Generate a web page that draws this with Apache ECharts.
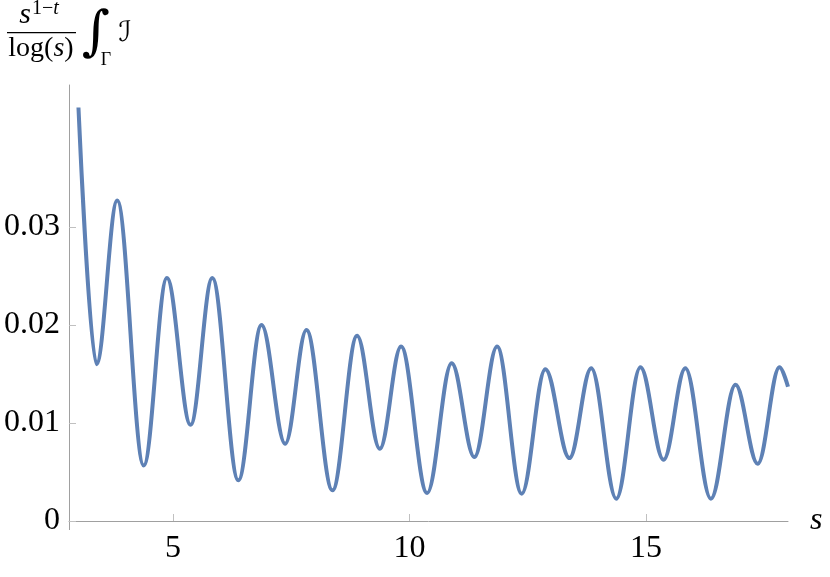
<!DOCTYPE html>
<html>
<head>
    <meta charset="utf-8">
    <title>oscillation plot</title>
    <script src="https://cdn.jsdelivr.net/npm/echarts@6/dist/echarts.min.js"></script>
    <style>
    html, body { margin: 0; padding: 0; background: #fff; }
    #main { width: 830px; height: 577px; }
    </style>
</head>
<body>
<div id="main"></div>
<script>
// values: peaks and troughs of the curve
const sX = [3.0, 3.38, 3.82, 4.38, 4.87, 5.37, 5.83, 6.38, 6.87, 7.37, 7.82, 8.37, 8.89, 9.37, 9.82,
    10.37, 10.89, 11.37, 11.85, 12.37, 12.87, 13.38, 13.84, 14.37, 14.88, 15.37, 15.83, 16.37, 16.89,
    17.36, 17.82, 18.0];
const sY = [0.0422, 0.0160, 0.0327, 0.00567, 0.0248, 0.00982, 0.0248, 0.00415, 0.0200, 0.00788, 0.0195,
    0.00313, 0.0189, 0.00737, 0.0178, 0.00285, 0.0161, 0.00652, 0.0178, 0.00279, 0.0155, 0.00642,
    0.0156, 0.00228, 0.0157, 0.00625, 0.0156, 0.00228, 0.0139, 0.00584, 0.0157, 0.0137];
const xTicks = [5, 10, 15];
const yTicks = [0, 0.01, 0.02, 0.03];

const serif = '"Liberation Serif", "DejaVu Serif", serif';
const chart = echarts.init(document.getElementById('main'));

const points = sX.map(function (x, i) { return [x, sY[i]]; });

const option = {
    animation: false,
    backgroundColor: '#fff',
    grid: { left: 69, right: 42, top: 85, bottom: 56, containLabel: false },
    xAxis: {
        type: 'value',
        min: 2.8,
        max: 18,
        name: 's',
        nameLocation: 'end',
        nameGap: 22,
        nameTextStyle: { fontFamily: serif, fontStyle: 'italic', fontSize: 32, color: '#000', verticalAlign: 'middle' },
        splitLine: { show: false },
        axisLine: { show: true, onZero: false, lineStyle: { color: '#a0a0a0', width: 1 } },
        axisTick: { show: true, inside: true, length: 7, customValues: xTicks, lineStyle: { color: '#c0c0c0', width: 1 } },
        axisLabel: { customValues: xTicks, margin: 12, fontFamily: serif, fontSize: 32, color: '#000' }
    },
    yAxis: {
        type: 'value',
        min: 0,
        max: 0.0445,
        splitLine: { show: false },
        axisLine: { show: true, onZero: false, lineStyle: { color: '#a0a0a0', width: 1 } },
        axisTick: { show: true, inside: true, length: 7, customValues: yTicks, lineStyle: { color: '#c0c0c0', width: 1 } },
        axisLabel: {
            customValues: yTicks, margin: 9, fontFamily: serif, fontSize: 32, color: '#000',
            formatter: function (v) { return v === 0 ? '0' : v.toFixed(2); }
        }
    },
    series: [{
        type: 'line',
        data: points,
        showSymbol: false,
        smooth: 0.36,
        smoothMonotone: 'x',
        lineStyle: { color: '#5e81b5', width: 4 },
        clip: false
    }],
    graphic: [
        // y axis runs a little below the x axis, as in the source plot
        { type: 'line', shape: { x1: 69.5, y1: 521, x2: 69.5, y2: 530 }, style: { stroke: '#a0a0a0', lineWidth: 1 } },
        { type: 'text', x: 25, y: 15, style: { text: 's', font: 'italic 30px ' + serif, fill: '#000', align: 'center', verticalAlign: 'middle' } },
        { type: 'text', x: 32, y: 9, style: {
            text: '{n|1−}{i|t}', align: 'left', verticalAlign: 'middle',
            rich: { n: { fontFamily: serif, fontSize: 20, fill: '#000' }, i: { fontFamily: serif, fontStyle: 'italic', fontSize: 20, fill: '#000' } }
        } },
        { type: 'rect', shape: { x: 7, y: 32, width: 69, height: 1.3 }, style: { fill: '#000' } },
        { type: 'text', x: 41, y: 49, style: {
            text: '{n|log(}{i|s}{n|)}', align: 'center', verticalAlign: 'middle',
            rich: { n: { fontFamily: serif, fontSize: 28, fill: '#000' }, i: { fontFamily: serif, fontStyle: 'italic', fontSize: 28, fill: '#000' } }
        } },
        { type: 'text', x: 96, y: 35, style: { text: '∫', font: 'italic 54px "DejaVu Serif"', fill: '#000', align: 'center', verticalAlign: 'middle' } },
        { type: 'text', x: 106, y: 60, style: { text: 'Γ', font: '18px ' + serif, fill: '#000', align: 'center', verticalAlign: 'middle' } },
        { type: 'text', x: 125, y: 34, style: { text: 'ℐ', font: 'italic 28px "DejaVu Serif", "DejaVu Sans"', fill: '#000', align: 'center', verticalAlign: 'middle' } }
    ]
};

chart.setOption(option);
</script>
</body>
</html>
